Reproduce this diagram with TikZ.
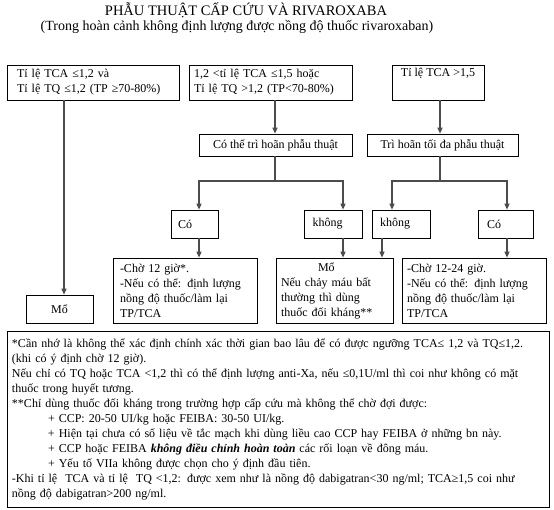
\documentclass[tikz,border=0pt]{standalone}
\usepackage{fontspec}
\setmainfont{Liberation Serif}
\usetikzlibrary{arrows.meta}
\begin{document}
\begin{tikzpicture}[x=1pt,y=-1pt,
  every node/.style={font=\fontsize{12}{15}\selectfont},
  box/.style={draw=black, line width=0.7pt, inner ysep=0pt, align=left},
  cbox/.style={draw=black, line width=0.7pt, inner sep=0pt, align=center},
  conn/.style={draw=black!70, line width=1.2pt},
  arr/.style={conn, -{Triangle[length=6pt,width=5pt]}}]
\useasboundingbox (0,0) rectangle (554,510);
\fill[white] (0,0) rectangle (554,510);
% titles
\node[font=\fontsize{14.5}{17}\selectfont] (title) at (246,10) {PHẪU THUẬT CẤP CỨU VÀ RIVAROXABA};
\node[font=\fontsize{14}{17}\selectfont] (subtitle) at (237,27) {(Trong hoàn cảnh không định lượng được nồng độ thuốc rivaroxaban)};
% top row
\node[box, inner xsep=10pt, text width=152pt, minimum height=35pt] (b1) at (93,82.5) {Tỉ lệ TCA ≤1,2 và\\Tỉ lệ TQ ≤1,2 (TP ≥70-80\%)};
\node[box, inner xsep=5pt, text width=153pt, minimum height=35pt] (b2) at (270.5,82.5) {1,2 <tỉ lệ TCA ≤1,5 hoặc\\Tỉ lệ TQ >1,2 (TP<70-80\%)};
\node[cbox, minimum width=92pt, minimum height=35pt] (b3) at (438,82.5) {Tỉ lệ TCA >1,5\\\strut};
% second row
\node[cbox, minimum width=153pt, minimum height=22pt] (b4) at (275.5,145) {Có thể trì hoãn phẫu thuật};
\node[cbox, minimum width=151pt, minimum height=22pt] (b5) at (442.5,145) {Trì hoãn tối đa phẫu thuật};
% third row
\node[box, inner xsep=7pt, text width=33pt, minimum height=28pt] (co1) at (194.5,224) {Có};
\node[box, inner xsep=8pt, text width=42pt, minimum height=28pt] (k1) at (333.5,224) {không};
\node[box, inner xsep=8pt, text width=42pt, minimum height=28pt] (k2) at (401,224) {không};
\node[box, inner xsep=9pt, text width=37pt, minimum height=28pt] (co2) at (505.5,224) {Có};
% bottom row
\node[cbox, minimum width=67pt, minimum height=28pt] (mo) at (59.5,309) {Mổ};
\node[box, inner xsep=7pt, text width=130pt, minimum height=65pt] (r1) at (185,290.5) {-Chờ 12 giờ*.\\-Nếu có thể: định lượng\\nồng độ thuốc/làm lại\\TP/TCA};
\node[box, inner xsep=5pt, text width=107pt, minimum height=65pt] (r2) at (334.5,290.5) {\hspace*{37pt}Mổ\\Nếu chảy máu bất\\thường thì dùng\\thuốc đối kháng**};
\node[box, inner xsep=5pt, text width=134pt, minimum height=65pt] (r3) at (474,290.5) {-Chờ 12-24 giờ.\\-Nếu có thể: định lượng\\nồng độ thuốc/làm lại\\TP/TCA};
% footnote
\node[box, inner xsep=5pt, text width=532pt, minimum height=176pt] (fn) at (278,419) {*Cần nhớ là không thể xác định chính xác thời gian bao lâu để có được ngưỡng TCA≤ 1,2 và TQ≤1,2.\\
{}(khi có ý định chờ 12 giờ).\\
Nếu chỉ có TQ hoặc TCA <1,2 thì có thể định lượng anti-Xa, nếu ≤0,1U/ml thì coi như không có mặt\\
thuốc trong huyết tương.\\
{}**Chỉ dùng thuốc đối kháng trong trường hợp cấp cứu mà không thể chờ đợi được:\\
\hspace*{36pt}+ CCP: 20-50 UI/kg hoặc FEIBA: 30-50 UI/kg.\\
\hspace*{36pt}+ Hiện tại chưa có số liệu về tắc mạch khi dùng liều cao CCP hay FEIBA ở những bn này.\\
\hspace*{36pt}+ CCP hoặc FEIBA \textbf{\textit{không điều chỉnh hoàn toàn}} các rối loạn về đông máu.\\
\hspace*{36pt}+ Yếu tố VIIa không được chọn cho ý định đầu tiên.\\
-Khi tỉ lệ~ TCA và tỉ lệ~ TQ <1,2: được xem như là nồng độ dabigatran<30 ng/ml; TCA≥1,5 coi như\\
nồng độ dabigatran>200 ng/ml.};
% connectors
\coordinate (j4) at (275,181);
\coordinate (j5) at (440,181);
\draw[arr] ([xshift=-29pt]b1.south) -- ([xshift=-29pt]b1.south |- mo.north);
\draw[arr] ([xshift=4.5pt]b2.south) -- ([xshift=4.5pt]b2.south |- b4.north);
\draw[arr] ([xshift=2pt]b3.south) -- ([xshift=2pt]b3.south |- b5.north);
\draw[conn] (b4.south -| j4) -- (j4);
\draw[arr] (j4) -| ([xshift=4.5pt]co1.north);
\draw[arr] (j4) -| ([xshift=9.5pt]k1.north);
\draw[conn] (b5.south -| j5) -- (j5);
\draw[arr] (j5) -| ([xshift=-9pt]k2.north);
\draw[arr] (j5) -| ([xshift=1.5pt]co2.north);
\draw[arr] ([xshift=4.5pt]co1.south) -- ([xshift=4.5pt]co1.south |- r1.north);
\draw[arr] ([xshift=9.5pt]k1.south) -- ([xshift=9.5pt]k1.south |- r2.north);
\draw[arr] ([xshift=-19pt]k2.south) -- ([xshift=-19pt]k2.south |- r2.north);
\draw[arr] ([xshift=1.5pt]co2.south) -- ([xshift=1.5pt]co2.south |- r3.north);
\end{tikzpicture}
\end{document}
